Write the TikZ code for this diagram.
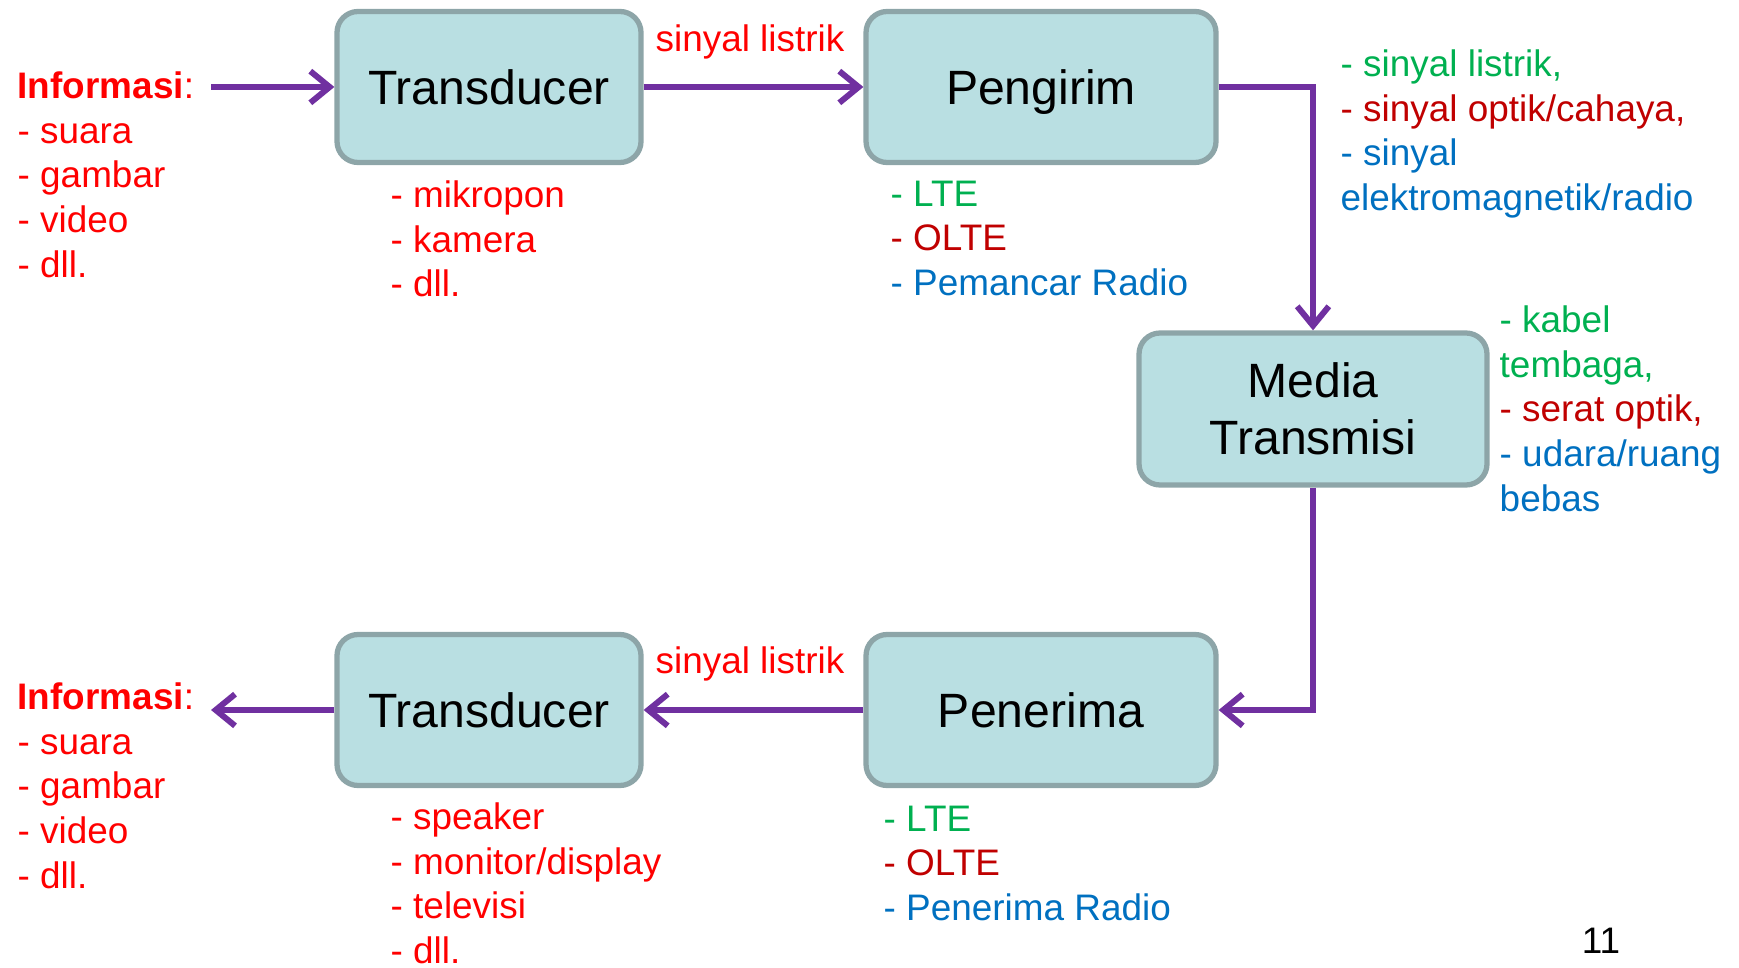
\documentclass[tikz,border=0pt]{standalone}
\usepackage{fontspec}
\setmainfont{Liberation Sans}
\usepackage{xcolor}
\usepackage{tikz}
\usetikzlibrary{arrows.meta, positioning}
\definecolor{BoxFill}{HTML}{B9DFE2}
\definecolor{BoxLine}{HTML}{8DA5A8}
\definecolor{Flow}{HTML}{7030A0}
\definecolor{ListRed}{HTML}{FF0000}
\definecolor{ListGreen}{HTML}{00B050}
\definecolor{ListDark}{HTML}{C00000}
\definecolor{ListBlue}{HTML}{0070C0}
\newcommand{\boxfont}{\fontsize{13.7}{16.1}\selectfont}
\newcommand{\listfont}{\fontsize{10.5}{12.72}\selectfont}
\tikzset{
  block/.style={draw=BoxLine, fill=BoxFill, line width=1.5pt, rounded corners=6pt,
    minimum height=1.51cm, font=\boxfont, align=center, inner sep=0pt},
  flow/.style={-{Straight Barb[length=5.5pt, width=9pt]}, line width=1.7pt, color=Flow},
  items/.style={anchor=north west, align=left, inner sep=0pt, font=\listfont},
  note/.style={anchor=base, inner sep=0pt, font=\listfont, color=ListRed},
}

\begin{document}
\begin{tikzpicture}
  \useasboundingbox (0,0) rectangle (17.39,9.67);

  % Blocks
  \node[block, minimum width=3.04cm] (trans1) at (4.89,8.80) {Transducer};
  \node[block, minimum width=3.50cm, text depth=0pt] (sender) at (10.41,8.80) {Pengirim};
  \node[block, minimum width=3.48cm, minimum height=1.52cm] (media) at (13.13,5.58) {Media\\Transmisi};
  \node[block, minimum width=3.50cm] (receiver) at (10.41,2.57) {Penerima};
  \node[block, minimum width=3.04cm] (trans2) at (4.89,2.57) {Transducer};

  \coordinate (infoIn) at (2.11,8.80);
  \coordinate (infoOut) at (2.11,2.57);

  % Flow
  \draw[flow] (infoIn) -- (trans1.west);
  \draw[flow] (trans1.east) -- (sender.west);
  \draw[flow] (sender.east) -| (media.north);
  \draw[flow] (media.south) |- (receiver.east);
  \draw[flow] (receiver.west) -- (trans2.east);
  \draw[flow] (trans2.west) -- (infoOut);

  \node[note] (sig1) at (7.50,9.15) {sinyal listrik};
  \node[note] (sig2) at (7.50,2.94) {sinyal listrik};

  % Lists
  \node[items, color=ListRed] (info1) at (0.17,8.96)
    {\textbf{Informasi}:\\- suara\\- gambar\\- video\\- dll.};
  \node[items, color=ListRed] (input) at (3.90,7.87)
    {- mikropon\\- kamera\\- dll.};
  \node[items] (tx) at (8.90,7.87)
    {\textcolor{ListGreen}{- LTE}\\\textcolor{ListDark}{- OLTE}\\\textcolor{ListBlue}{- Pemancar Radio}};
  \node[items] (signals) at (13.40,9.18)
    {\textcolor{ListGreen}{- sinyal listrik,}\\\textcolor{ListDark}{- sinyal optik/cahaya,}\\
     \textcolor{ListBlue}{- sinyal}\\\textcolor{ListBlue}{elektromagnetik/radio}};
  \node[items] (channels) at (14.99,6.62)
    {\textcolor{ListGreen}{- kabel}\\\textcolor{ListGreen}{tembaga,}\\\textcolor{ListDark}{- serat optik,}\\
     \textcolor{ListBlue}{- udara/ruang}\\\textcolor{ListBlue}{bebas}};
  \node[items, color=ListRed] (info2) at (0.17,2.85)
    {\textbf{Informasi}:\\- suara\\- gambar\\- video\\- dll.};
  \node[items, color=ListRed] (output) at (3.90,1.65)
    {- speaker\\- monitor/display\\- televisi\\- dll.};
  \node[items] (rx) at (8.83,1.62)
    {\textcolor{ListGreen}{- LTE}\\\textcolor{ListDark}{- OLTE}\\\textcolor{ListBlue}{- Penerima Radio}};

  \node[font=\listfont] (page) at (16.01,0.26) {11};
\end{tikzpicture}
\end{document}
